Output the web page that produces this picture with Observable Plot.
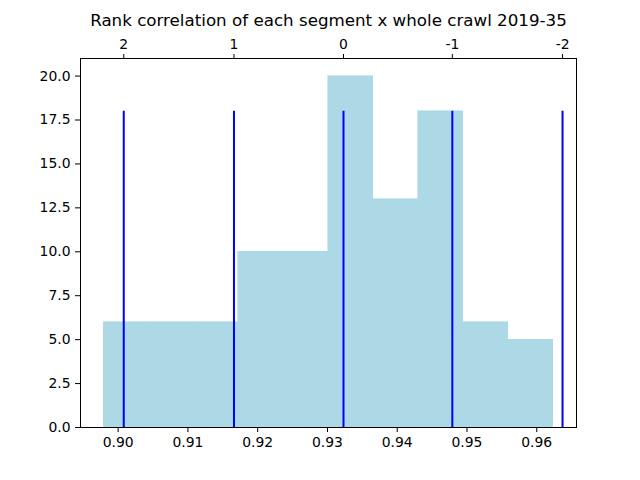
<!DOCTYPE html>
<html>
<head>
<meta charset="utf-8">
<script src="https://cdn.jsdelivr.net/npm/d3@7"></script>
<script src="https://cdn.jsdelivr.net/npm/@observablehq/plot@0.6"></script>
<style>
  html, body { margin: 0; padding: 0; background: white; }
</style>
</head>
<body>
<div id="chart"></div>
<script>
const title = "Rank correlation of each segment x whole crawl 2019-35";
// histogram bin edges and counts
const binEdges = [0.8979, 0.9043, 0.9108, 0.9172, 0.9237, 0.9301, 0.9366, 0.9430, 0.9495, 0.9559, 0.9624];
const binCounts = [6, 6, 6, 10, 10, 20, 13, 18, 6, 5];
// vertical lines at mean + k*std, and their top-axis labels
const lineValues = [0.9008, 0.9166, 0.9323, 0.9479, 0.9637];
const lineLabels = ["2", "1", "0", "-1", "-2"];
const lineHeight = 18;
const xTicks = [0.90, 0.91, 0.92, 0.93, 0.94, 0.95, 0.96];
const yTicks = [0, 2.5, 5, 7.5, 10, 12.5, 15, 17.5, 20];

const bins = binCounts.map((c, i) => ({x1: binEdges[i], x2: binEdges[i + 1], count: c}));
const lines = lineValues.map((v, i) => ({x: v, label: lineLabels[i], top: lineHeight}));

const plot = Plot.plot({
  width: 640,
  height: 480,
  marginLeft: 80,
  marginRight: 64,
  marginTop: 58,
  marginBottom: 53,
  style: {fontFamily: "DejaVu Sans", fontSize: "13.9px", background: "white", color: "black"},
  x: {domain: [0.8946, 0.9657]},
  y: {domain: [0, 21]},
  marks: [
    Plot.rectY(bins, {x1: "x1", x2: "x2", y: "count", fill: "#add8e6", stroke: "#add8e6", strokeWidth: 0.6, inset: 0, shapeRendering: "crispEdges"}),
    Plot.ruleX(lines, {x: "x", y1: 0, y2: "top", stroke: "blue", strokeWidth: 2}),
    Plot.frame({stroke: "black", strokeWidth: 1}),
    Plot.axisX({anchor: "bottom", ticks: xTicks, tickFormat: d => d.toFixed(2), tickSize: 5, tickPadding: 5, label: null, fontSize: 13.9}),
    Plot.axisX({anchor: "top", ticks: lineValues, tickFormat: d => lineLabels[lineValues.indexOf(d)], tickSize: 5, tickPadding: 5, label: null, fontSize: 13.9}),
    Plot.axisY({ticks: yTicks, tickFormat: d => d.toFixed(1), tickSize: 5, tickPadding: 5, label: null, fontSize: 13.9}),
    Plot.text([title], {frameAnchor: "top", lineAnchor: "middle", dy: -38, fontSize: 16.7, fill: "black"})
  ]
});
document.getElementById("chart").appendChild(plot);
</script>
</body>
</html>
